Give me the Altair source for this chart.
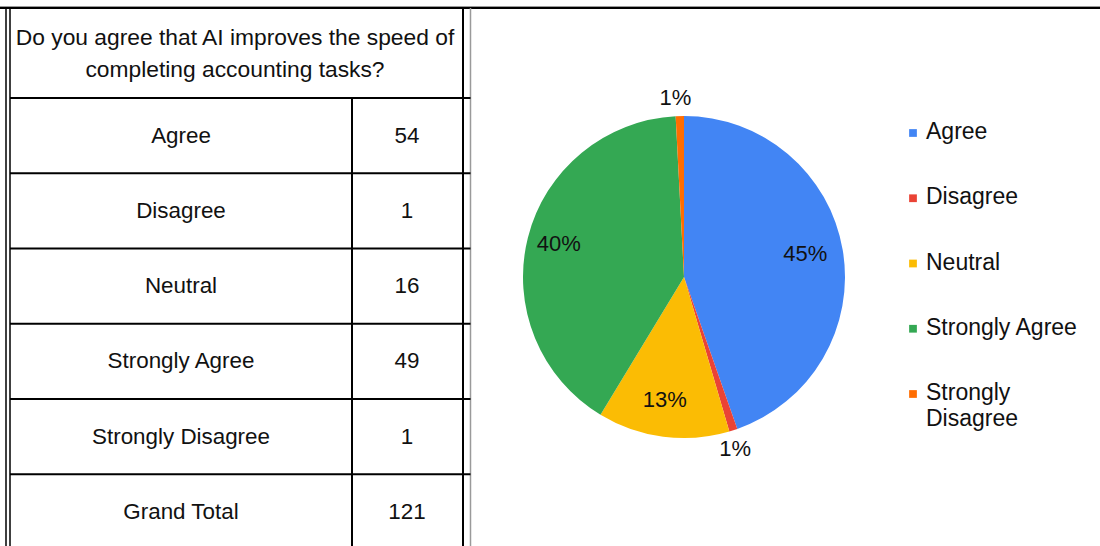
import math
import altair as alt
import pandas as pd

# ---------------- data ----------------
categories = ["Agree", "Disagree", "Neutral", "Strongly Agree", "Strongly Disagree"]
counts = [54, 1, 16, 49, 1]
colors = ["#4285F4", "#EA4335", "#FBBC04", "#34A853", "#FF6D01"]
total_label = "Grand Total"
total_value = 121
question_lines = ["Do you agree that AI improves the speed of", "completing accounting tasks?"]

FONT = "Liberation Sans"
TXT = "#111111"
W, H = 1100, 546
CX, CY, R = 684, 277, 161

pie_df = pd.DataFrame({"cat": categories, "count": counts, "idx": list(range(len(categories)))})
table_labels = categories + [total_label]
table_df = pd.DataFrame({"label": table_labels,
                         "value": [str(v) for v in counts + [total_value]]})
legend_df = pd.DataFrame({"cat": categories})
one = alt.Data(values=[{"k": 0}])

color_scale = alt.Scale(domain=categories, range=colors)
row_scale = alt.Scale(type="band", domain=table_labels, range=[98, 549.5],
                      paddingInner=0, paddingOuter=0)
leg_scale = alt.Scale(type="point", domain=categories, range=[133, 394], padding=0)
theta_scale = alt.Scale(domain=[0, sum(counts)], range=[0, 2 * math.pi])


def rule(x1, x2, y1, y2, color="black", w=2):
    return alt.Chart(one).mark_rule(color=color, strokeWidth=w).encode(
        x=alt.value(x1), x2=alt.value(x2), y=alt.value(y1), y2=alt.value(y2))


# ---------------- table ----------------
lines = [
    rule(0, W, 6.5, 6.5, "#9a9a9a", 1),
    rule(0, W, 8, 8, "black", 2),
    rule(6, 6, 8, H, "black", 1.5),
    rule(10, 10, 9, H, "black", 1.5),
    rule(463, 463, 8, H, "black", 2),
    rule(470.5, 470.5, 8, H, "#9a9a9a", 1.5),
    rule(352, 352, 98, H, "black", 2),
]

row_lines = alt.Chart(table_df).mark_rule(color="black", strokeWidth=2).encode(
    x=alt.value(10), x2=alt.value(470.5),
    y=alt.Y("label:N", scale=row_scale, axis=None, bandPosition=0))

header = alt.Chart(one).mark_text(
    text=question_lines, font=FONT, fontSize=22.8, color=TXT, align="center",
    baseline="alphabetic", lineHeight=32).encode(x=alt.value(235), y=alt.value(45))

tbl_left = alt.Chart(table_df).mark_text(
    font=FONT, fontSize=22.4, color=TXT, align="center", baseline="middle").encode(
    x=alt.value(181),
    y=alt.Y("label:N", scale=row_scale, axis=None, bandPosition=0.5),
    text="label:N")

tbl_right = alt.Chart(table_df).mark_text(
    font=FONT, fontSize=22.4, color=TXT, align="center", baseline="middle").encode(
    x=alt.value(407),
    y=alt.Y("label:N", scale=row_scale, axis=None, bandPosition=0.5),
    text="value:N")

# ---------------- pie ----------------
pie_base = alt.Chart(pie_df).transform_joinaggregate(
    total="sum(count)"
).transform_window(
    cum="sum(count)", sort=[alt.SortField("idx")], frame=[None, 0]
).transform_calculate(
    start="datum.cum - datum.count",
    mid="datum.cum - datum.count / 2",
    frac="datum.count / datum.total",
    pct="format(datum.count / datum.total, '.0%')",
)

arcs = pie_base.mark_arc(radius=R).encode(
    x=alt.value(CX), y=alt.value(CY),
    theta=alt.Theta("start:Q", scale=theta_scale, stack=False),
    theta2="cum:Q",
    color=alt.Color("cat:N", scale=color_scale, legend=None),
)

lab_in = pie_base.transform_filter("datum.frac >= 0.05").mark_text(
    radius=126, font=FONT, fontSize=22, color=TXT, align="center", baseline="middle",
    dx=-3, dy=-2).encode(
    x=alt.value(CX), y=alt.value(CY),
    theta=alt.Theta("mid:Q", scale=theta_scale, stack=False),
    text="pct:N")

lab_out = pie_base.transform_filter("datum.frac < 0.05").mark_text(
    radius=180, font=FONT, fontSize=22, color=TXT, align="center", baseline="middle",
    dx=-4, dy=1).encode(
    x=alt.value(CX), y=alt.value(CY),
    theta=alt.Theta("mid:Q", scale=theta_scale, stack=False),
    text="pct:N")

# ---------------- legend ----------------
leg_sq = alt.Chart(legend_df).mark_square(size=60, opacity=1).encode(
    x=alt.value(913),
    y=alt.Y("cat:N", scale=leg_scale, axis=None),
    color=alt.Color("cat:N", scale=color_scale, legend=None))

leg_txt = alt.Chart(legend_df).transform_calculate(
    lab="length(datum.cat) > 15 ? split(datum.cat, ' ') : datum.cat"
).mark_text(font=FONT, fontSize=23, color=TXT, align="left", baseline="alphabetic",
            dy=6, lineHeight=26).encode(
    x=alt.value(926),
    y=alt.Y("cat:N", scale=leg_scale, axis=None),
    text="lab:N")

chart = alt.layer(
    *lines, row_lines, header, tbl_left, tbl_right, arcs, lab_in, lab_out, leg_sq, leg_txt
).resolve_scale(y="independent").properties(
    width=W, height=H, padding=0, autosize=alt.AutoSizeParams(type="none"),
    background="white"
).configure_view(stroke=None)

chart.save("out.html", embed_options={"renderer": "svg", "actions": False})
